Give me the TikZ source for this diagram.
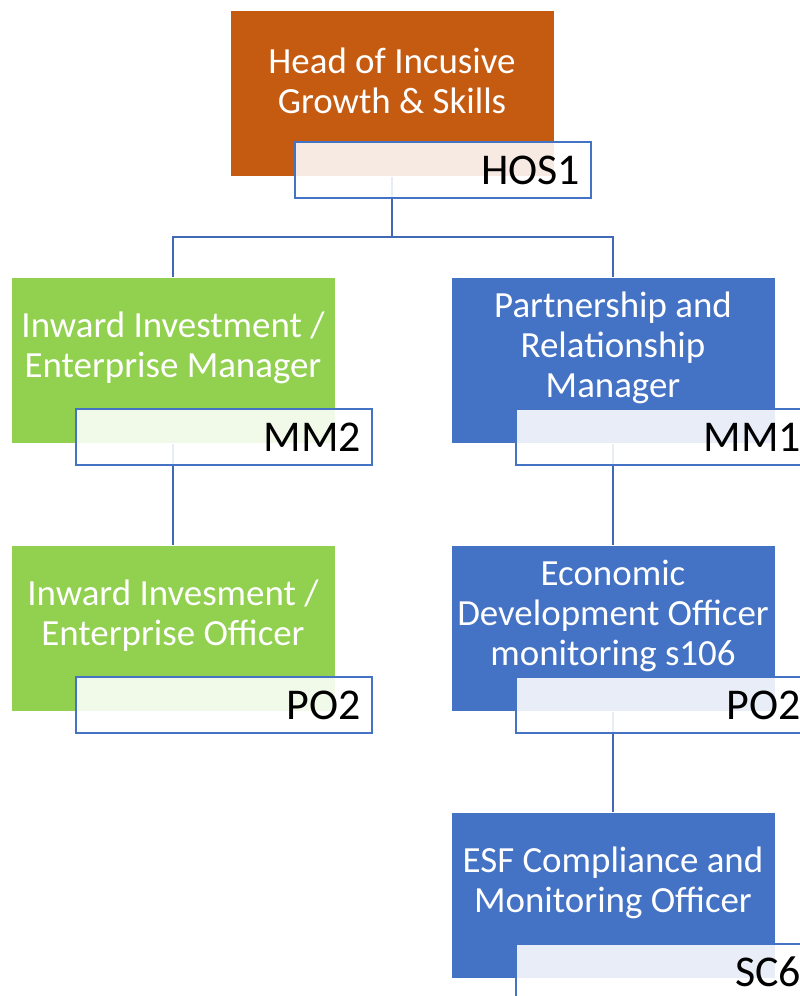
\documentclass[tikz,border=0pt]{standalone}
\usepackage{fontspec}
\setmainfont{Carlito}
\usetikzlibrary{backgrounds}
\definecolor{orgOrange}{HTML}{C55A11}
\definecolor{orgGreen}{HTML}{92D050}
\definecolor{orgBlue}{HTML}{4472C4}
\definecolor{lineBlue}{HTML}{4169B4}
\tikzset{
  post/.style={fill=#1, draw=white, line width=0.4pt, anchor=north west,
    minimum width=6.48cm, minimum height=3.32cm, inner sep=0pt},
  title/.style={text=white, align=center, font=\fontsize{21}{22.7}\selectfont},
  grade/.style={draw=orgBlue, line width=1.1pt, fill=white, fill opacity=0.88,
    text opacity=1, anchor=north west, minimum width=5.92cm, minimum height=1.12cm,
    text width=5.48cm, inner xsep=0.22cm, align=right,
    font=\fontsize{25}{30}\selectfont},
  link/.style={draw=lineBlue, line width=1.2pt}
}

\begin{document}
\begin{tikzpicture}[x=0.02cm,y=-0.02cm]
  \useasboundingbox (0,0) rectangle (800,996);
  \clip (0,0) rectangle (800,996);
  \foreach \n/\x/\y/\c/\t/\g in {
    hos/230/10/orgOrange/{Head of Incusive\\Growth \& Skills}/HOS1,
    mmA/11/277/orgGreen/{Inward Investment /\\Enterprise Manager}/MM2,
    mmB/451/277/orgBlue/{Partnership and\\Relationship\\Manager}/MM1,
    poA/11/545/orgGreen/{Inward Invesment /\\Enterprise Officer}/PO2,
    poB/451/545/orgBlue/{Economic\\Development Officer\\monitoring s106}/PO2,
    sc/451/812/orgBlue/{ESF Compliance and\\Monitoring Officer}/SC6}{
    \node[post=\c] (\n) at (\x,\y) {};
    \node[title] (\n T) at ({\x+162},{\y+71}) {\t};
    \node[grade] (\n G) at ({\x+64},{\y+131}) {\g};
  }
  % reporting lines sit behind the boxes
  \begin{scope}[on background layer]
    \draw[link] (hos.south) -- ++(0,60) -| (mmA.north);
    \draw[link] (hos.south) -- ++(0,60) -| (mmB.north);
    \draw[link] (mmA.south) -- (poA.north);
    \draw[link] (mmB.south) -- (poB.north);
    \draw[link] (poB.south) -- (sc.north);
  \end{scope}
\end{tikzpicture}
\end{document}
